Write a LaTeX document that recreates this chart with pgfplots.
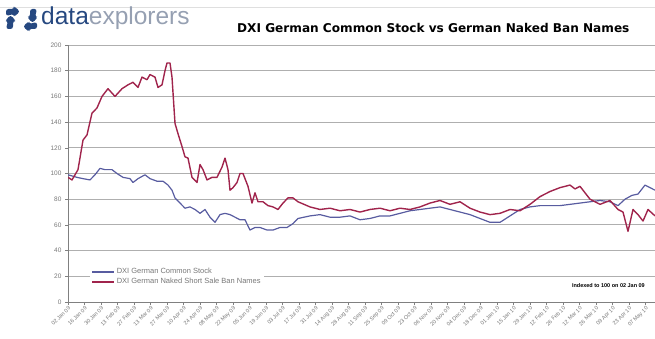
\documentclass[border=0pt]{standalone}
\usepackage{pgfplots}
\pgfplotsset{compat=1.18}
\usepackage{fontspec}
\setmainfont{Liberation Sans}
\newfontfamily\titlefont{DejaVu Sans}
\usetikzlibrary{arrows.meta}
\definecolor{dxblue}{RGB}{88,92,160}
\definecolor{dxred}{RGB}{160,36,76}
\definecolor{gridgray}{RGB}{175,175,175}
\definecolor{logoblue}{RGB}{38,72,128}
\definecolor{logogray}{RGB}{150,160,178}
\definecolor{labgray}{RGB}{120,120,120}

\pgfplotstableread{
x y
0 97
4 95
10 103
15 126
19 130
24 147
29 151
34 160
40 166
47 160
54 166
60 169
65 171
70 167
74 175
79 173
82 177
87 175
90 167
94 169
97 180
99 186
102 186
104 175
107 139
110 131
114 121
117 113
120 112
124 97
129 93
132 107
135 103
139 95
144 97
149 97
154 105
157 112
160 103
162 87
165 89
169 93
172 100
175 100
180 90
184 77
187 85
190 78
195 78
200 75
205 74
210 72
215 77
220 81
225 81
230 78
242 74
252 72
262 73
272 71
282 72
292 70
302 72
312 73
322 71
332 73
342 72
352 74
362 77
372 79
382 76
392 78
402 73
412 70
422 68
432 69
442 72
452 71
462 76
472 82
482 86
492 89
502 91
507 88
512 90
522 80
532 76
542 79
550 72
555 70
560 55
565 72
570 68
575 63
580 72
587 67
}\redtable

\pgfplotstableread{
x y
0 99
9 97
15 96
22 95
27 99
32 104
37 103
44 103
49 100
55 97
62 96
65 93
70 96
77 99
82 96
89 94
95 94
100 91
104 87
107 81
112 77
117 73
122 74
127 72
132 69
137 72
142 66
147 62
152 68
157 69
162 68
167 66
172 64
177 64
182 56
187 58
192 58
199 56
205 56
212 58
219 58
225 61
230 65
242 67
252 68
262 66
272 66
282 67
292 64
302 65
312 67
322 67
332 69
342 71
352 72
362 73
372 74
382 72
392 70
402 68
412 65
422 62
432 62
442 67
452 72
462 74
472 75
482 75
492 75
502 76
512 77
522 78
532 79
542 78
550 75
557 80
564 83
570 84
577 91
582 89
587 87
}\bluetable

\begin{document}
\begin{tikzpicture}[x=1pt,y=1pt]
\useasboundingbox (0,0) rectangle (655,338);
\draw[gray!25, line width=0.8pt] (0,331) -- (655,331);
% logo icon: four rounded arrow blobs
\begin{scope}[logoblue]
\fill[rounded corners=2.5pt] (6,322) -- (6,329) -- (14,329) -- (14,332) -- (20,326.5) -- (14,321) -- (14,324) -- cycle;
\fill[rounded corners=2.5pt] (37,329) -- (30,329) -- (30,321) -- (27,321) -- (32.5,315) -- (38,321) -- (35,321) -- cycle;
\fill[rounded corners=2.5pt] (37,316) -- (37,309) -- (29,309) -- (29,306) -- (23,311.5) -- (29,317) -- (29,314) -- cycle;
\fill[rounded corners=2.5pt] (6,309) -- (13,309) -- (13,317) -- (16,317) -- (10.5,323) -- (5,317) -- (8,317) -- cycle;
\end{scope}
\node[anchor=west, inner sep=0pt, font=\fontsize{24.5}{26}\selectfont] at (41,320)
  {\textcolor{logoblue}{data}\textcolor{logogray}{explorers}};
\node[anchor=west, inner sep=0pt, font=\titlefont\bfseries\fontsize{12.1}{14}\selectfont] at (237,310)
  {DXI German Common Stock vs German Naked Ban Names};
\begin{axis}[
  at={(68pt,36pt)}, anchor=south west,
  scale only axis, width=587pt, height=257pt,
  xmin=0, xmax=587, ymin=0, ymax=200,
  xtick={0,16.5,...,578},
  xticklabels={02 Jan 09,16 Jan 09,30 Jan 09,13 Feb 09,27 Feb 09,13 Mar 09,27 Mar 09,10 Apr 09,24 Apr 09,08 May 09,22 May 09,05 Jun 09,19 Jun 09,03 Jul 09,17 Jul 09,31 Jul 09,14 Aug 09,28 Aug 09,11 Sep 09,25 Sep 09,09 Oct 09,23 Oct 09,06 Nov 09,20 Nov 09,04 Dec 09,18 Dec 09,01 Jan 10,15 Jan 10,29 Jan 10,12 Feb 10,26 Feb 10,12 Mar 10,26 Mar 10,09 Apr 10,23 Apr 10,07 May 10},
  x tick label style={rotate=45, anchor=north east, font=\fontsize{5.5}{6}\selectfont, text=labgray, inner sep=0.5pt},
  ytick={0,20,...,200},
  y tick label style={font=\fontsize{6.5}{7}\selectfont, text=labgray},
  /pgf/number format/assume math mode=true,
  ymajorgrids, grid style={gridgray, line width=0.9pt},
  axis x line*=bottom, axis y line*=left,
  axis line style={gray, line width=0.7pt},
  tick style={gray, line width=0.5pt}, major tick length=3pt, tick align=outside,
  legend style={at={(0.037,0.145)}, anchor=north west, draw=none, fill=white,
    font=\fontsize{7.5}{8}\selectfont, text=labgray, inner sep=1.5pt, row sep=-1pt,
    cells={anchor=west}},
  legend image code/.code={\draw[#1] (0pt,0pt) -- (22pt,0pt);},
]
\addplot[dxblue, line width=1.2pt, line join=round] table {\bluetable};
\addlegendentry{DXI German Common Stock}
\addplot[dxred, line width=1.4pt, line join=round] table {\redtable};
\addlegendentry{DXI German Naked Short Sale Ban Names}
\node[anchor=east, inner sep=0pt, font=\bfseries\fontsize{5.5}{6}\selectfont] at (axis cs:577,13) {Indexed to 100 on 02 Jan 09};
\end{axis}
\end{tikzpicture}
\end{document}
